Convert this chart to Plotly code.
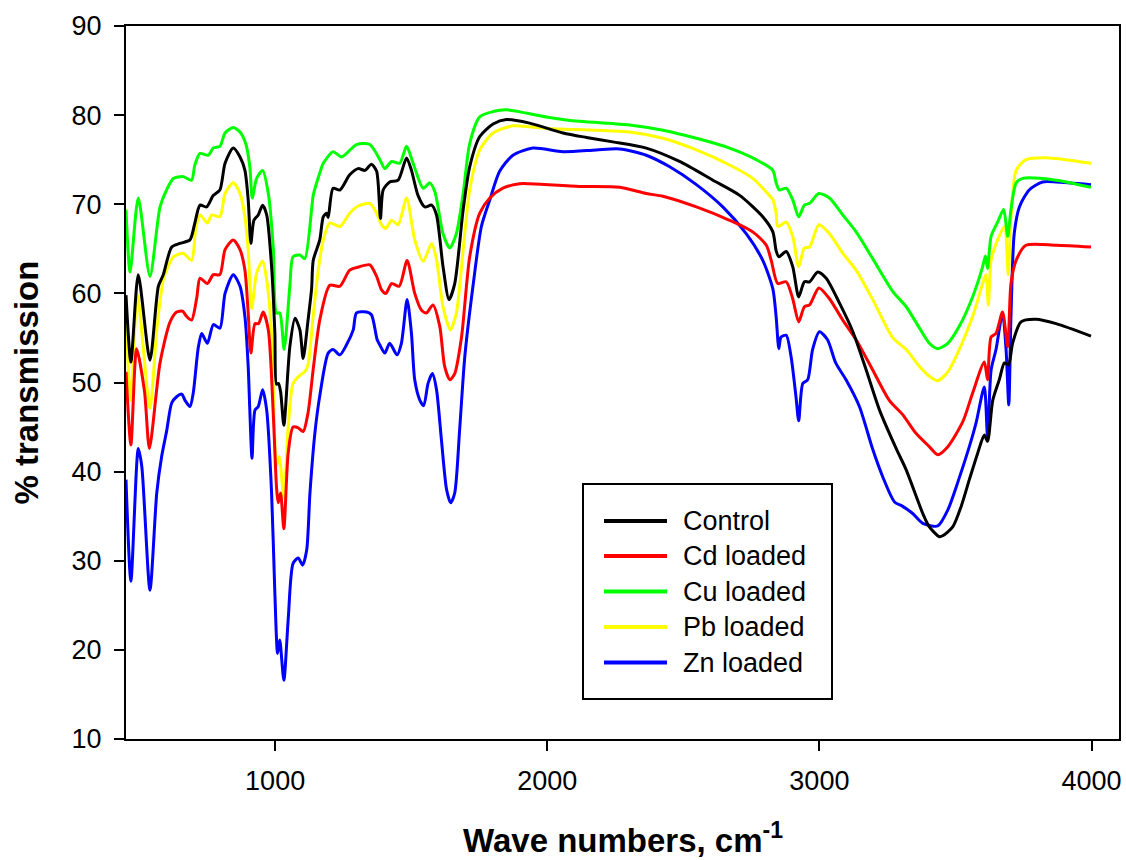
import plotly.graph_objects as go

# FTIR spectra: wavenumber (cm-1) and % transmission for each sample
control_wn = [452, 470, 497, 540, 571, 589, 620, 650, 687, 705, 724, 748, 773, 797, 816, 846, 871, 889, 901,
              911, 922, 938, 954, 969, 987, 999, 1005, 1012, 1020, 1032, 1054, 1073, 1091, 1103, 1121, 1134,
              1140, 1164, 1177, 1189, 1195, 1213, 1238, 1274, 1305, 1330, 1354, 1373, 1387, 1397, 1421, 1452,
              1483, 1501, 1525, 1550, 1575, 1593, 1617, 1639, 1660, 1691, 1715, 1752, 1801, 1850, 1935, 2058,
              2144, 2241, 2364, 2486, 2609, 2707, 2792, 2829, 2841, 2851, 2878, 2902, 2924, 2945, 2964, 2994,
              3025, 3074, 3123, 3172, 3221, 3282, 3319, 3380, 3404, 3441, 3453, 3490, 3521, 3551, 3582, 3606,
              3618, 3637, 3661, 3680, 3695, 3710, 3741, 3796, 3870, 3998]
control_t = [59.8, 52.3, 62.1, 52.5, 60.8, 62.1, 65.2, 65.6, 66.0, 67.9, 69.9, 69.7, 71.0, 71.6, 74.6, 76.3, 75.3,
             73.8, 70.5, 65.6, 68.2, 68.8, 69.9, 68.8, 63.0, 55.6, 49.8, 49.9, 49.0, 45.2, 54.0, 57.2, 55.9, 52.7,
             57.0, 60.5, 63.7, 66.0, 68.6, 69.0, 68.5, 71.8, 71.6, 73.3, 74.0, 73.8, 74.5, 73.7, 68.4, 71.6, 72.5,
             72.7, 75.2, 73.8, 71.0, 69.7, 69.9, 68.8, 63.0, 59.3, 61.1, 69.4, 74.2, 77.6, 79.0, 79.5, 79.1, 78.0,
             77.5, 77.0, 76.3, 74.8, 72.7, 71.0, 68.6, 66.9, 64.8, 64.1, 64.7, 63.0, 59.6, 61.3, 61.3, 62.4,
             61.7, 58.9, 55.7, 51.4, 46.9, 42.6, 40.2, 35.3, 33.8, 32.7, 32.8, 33.8, 36.1, 39.1, 42.1, 44.1,
             43.4, 48.0, 50.3, 52.2, 52.0, 54.4, 56.8, 57.1, 56.6, 55.2]

cd_wn = [452, 470, 491, 520, 538, 577, 614, 638, 660, 675, 693, 712, 724, 751, 773, 797, 816, 846, 871, 889,
         901, 911, 926, 939, 956, 975, 993, 1005, 1011, 1020, 1032, 1048, 1066, 1085, 1103, 1121, 1140, 1164,
         1201, 1238, 1274, 1311, 1348, 1373, 1391, 1407, 1428, 1456, 1485, 1513, 1538, 1556, 1580, 1605, 1623,
         1642, 1660, 1685, 1715, 1752, 1789, 1837, 1899, 1935, 2119, 2266, 2364, 2425, 2548, 2670, 2755, 2805,
         2823, 2847, 2878, 2902, 2924, 2945, 2964, 2998, 3037, 3086, 3135, 3196, 3257, 3306, 3355, 3404, 3435,
         3472, 3527, 3563, 3606, 3618, 3631, 3649, 3673, 3692, 3704, 3723, 3759, 3870, 3998]
cd_t = [51.2, 43.0, 53.8, 49.0, 42.6, 52.2, 56.8, 57.9, 58.0, 57.4, 57.0, 59.5, 61.7, 61.1, 62.1, 62.1, 64.9, 66.0,
        64.9, 62.6, 57.8, 53.3, 56.6, 56.6, 57.9, 55.9, 46.6, 38.3, 36.5, 37.6, 33.6, 42.1, 45.0, 44.9, 44.5, 46.6,
        51.5, 57.0, 60.9, 60.8, 62.6, 63.0, 63.2, 61.9, 60.4, 60.0, 61.1, 60.8, 63.7, 60.0, 58.1, 57.8, 58.7, 56.3,
        51.8, 50.3, 51.0, 55.1, 64.1, 69.0, 70.7, 71.8, 72.3, 72.3, 72.0, 71.9, 71.2, 70.9, 69.7, 68.2, 66.9, 65.4,
        63.7, 61.1, 61.3, 59.4, 56.8, 58.5, 58.7, 60.6, 59.4, 57.0, 54.8, 51.4, 48.0, 46.4, 44.3, 42.8, 41.9,
        42.8, 45.6, 48.8, 52.3, 50.3, 55.1, 55.5, 57.9, 54.0, 61.1, 63.7, 65.4, 65.4, 65.2]

cu_wn = [452, 467, 497, 540, 577, 601, 626, 662, 693, 705, 724, 754, 773, 797, 816, 846, 871, 893, 907, 916,
         932, 954, 975, 993, 1005, 1017, 1033, 1054, 1066, 1091, 1109, 1134, 1140, 1164, 1177, 1213, 1244, 1299,
         1348, 1385, 1403, 1428, 1458, 1483, 1507, 1544, 1568, 1587, 1617, 1642, 1666, 1691, 1715, 1752, 1801,
         1850, 1997, 2119, 2303, 2425, 2548, 2670, 2768, 2829, 2841, 2853, 2878, 2902, 2924, 2945, 2964, 2998,
         3037, 3086, 3135, 3196, 3270, 3319, 3368, 3404, 3435, 3472, 3514, 3563, 3600, 3610, 3618, 3631, 3655,
         3677, 3692, 3704, 3723, 3747, 3870, 3998]
cu_t = [69.4, 62.4, 70.7, 61.9, 69.7, 71.6, 72.9, 73.1, 72.7, 74.4, 75.7, 75.5, 76.3, 76.5, 78.0, 78.6, 78.1, 76.7,
        74.2, 70.7, 72.9, 73.8, 71.2, 65.2, 57.8, 57.8, 53.7, 60.8, 64.1, 64.3, 63.9, 69.4, 71.0, 73.5, 74.6, 75.9,
        75.3, 76.7, 76.7, 75.0, 74.0, 74.8, 74.6, 76.5, 74.6, 71.8, 72.4, 71.4, 66.7, 65.1, 66.7, 71.2, 76.8, 79.8,
        80.4, 80.6, 79.8, 79.3, 78.9, 78.3, 77.4, 76.3, 75.0, 73.8, 72.4, 71.6, 71.8, 70.5, 68.6, 69.9, 70.1, 71.2,
        70.7, 68.8, 66.9, 63.9, 60.2, 58.5, 56.1, 54.4, 53.8, 54.4, 56.3, 59.6, 63.0, 64.2, 62.8, 66.4, 68.0,
        69.4, 66.4, 69.4, 72.4, 72.9, 72.7, 71.9]

pb_wn = [452, 469, 494, 540, 565, 589, 601, 626, 662, 693, 709, 724, 751, 767, 797, 816, 846, 871, 889, 901,
         914, 932, 954, 969, 987, 1005, 1015, 1032, 1048, 1066, 1091, 1109, 1121, 1140, 1158, 1177, 1201, 1238,
         1274, 1305, 1348, 1373, 1391, 1407, 1428, 1452, 1483, 1513, 1544, 1575, 1593, 1617, 1644, 1666, 1691,
         1715, 1752, 1801, 1874, 1997, 2180, 2303, 2425, 2548, 2670, 2755, 2810, 2829, 2841, 2847, 2878, 2902,
         2924, 2945, 2964, 2998, 3037, 3086, 3135, 3196, 3270, 3319, 3368, 3404, 3435, 3472, 3514, 3563, 3606,
         3612, 3621, 3631, 3655, 3680, 3694, 3704, 3723, 3759, 3845, 3998]
pb_t = [57.2, 48.0, 59.8, 47.1, 55.9, 61.5, 62.6, 64.1, 64.5, 63.7, 67.5, 68.8, 67.9, 68.8, 68.6, 71.2, 72.4, 71.2,
        68.6, 64.9, 58.3, 62.3, 63.6, 61.5, 55.5, 40.6, 41.7, 37.1, 45.0, 49.9, 50.8, 51.2, 52.0, 57.5, 62.5, 66.0,
        67.9, 67.5, 69.0, 69.8, 70.1, 69.0, 67.7, 67.3, 68.2, 67.7, 70.7, 66.0, 63.6, 65.6, 63.8, 58.5, 55.9, 57.8,
        64.9, 71.6, 76.1, 78.0, 78.8, 78.5, 78.3, 78.1, 77.4, 76.1, 74.4, 72.9, 71.2, 70.5, 69.0, 67.5, 68.0, 66.4,
        63.0, 65.1, 65.2, 67.7, 66.7, 64.5, 62.6, 59.3, 55.0, 53.7, 51.8, 50.7, 50.2, 51.2, 53.7, 57.4, 61.7,
        62.1, 58.7, 63.7, 66.0, 67.5, 62.1, 68.6, 73.8, 75.0, 75.2, 74.6]

zn_wn = [452, 470, 497, 510, 540, 565, 583, 601, 620, 638, 657, 669, 687, 699, 712, 718, 730, 751, 773, 797,
         816, 846, 871, 889, 901, 907, 915, 926, 938, 954, 969, 987, 999, 1009, 1017, 1032, 1048, 1066, 1085,
         1101, 1116, 1128, 1146, 1164, 1195, 1213, 1238, 1262, 1287, 1299, 1336, 1354, 1375, 1385, 1403, 1421,
         1448, 1464, 1485, 1501, 1513, 1532, 1546, 1562, 1578, 1593, 1611, 1630, 1645, 1660, 1678, 1697, 1727,
         1758, 1789, 1825, 1874, 1947, 2058, 2180, 2266, 2364, 2450, 2548, 2645, 2731, 2792, 2829, 2841, 2851,
         2859, 2878, 2896, 2914, 2924, 2939, 2957, 2975, 3000, 3030, 3060, 3098, 3147, 3196, 3233, 3276, 3306,
         3343, 3380, 3435, 3472, 3514, 3551, 3576, 3606, 3618, 3631, 3649, 3673, 3686, 3696, 3704, 3716, 3735,
         3771, 3820, 3870, 3998]
zn_t = [39.1, 27.7, 42.6, 40.6, 26.7, 37.6, 41.7, 44.5, 47.7, 48.4, 48.7, 48.0, 47.3, 48.8, 52.5, 54.0, 55.5, 54.4,
        56.5, 56.1, 60.0, 62.1, 60.8, 57.4, 51.8, 46.9, 41.5, 46.9, 47.3, 49.2, 46.9, 37.6, 26.4, 19.6, 21.1, 16.6,
        23.4, 29.7, 30.3, 29.5, 31.2, 37.6, 44.3, 48.5, 53.3, 53.7, 53.1, 54.2, 55.9, 57.8, 57.9, 57.6, 54.8, 54.2,
        53.3, 54.4, 53.1, 54.4, 59.3, 55.5, 50.3, 48.0, 47.4, 49.9, 51.0, 49.2, 43.6, 38.0, 36.5, 37.6, 44.7, 52.9,
        60.8, 67.5, 70.5, 73.7, 75.5, 76.3, 75.9, 76.1, 76.2, 75.5, 74.2, 72.2, 69.7, 66.7, 63.7, 60.5, 57.4, 53.8,
        55.1, 55.3, 52.9, 48.4, 45.7, 49.9, 50.3, 53.7, 55.7, 54.8, 52.2, 50.3, 47.3, 42.5, 39.4, 36.6, 36.1,
        35.3, 34.2, 33.9, 35.7, 39.3, 42.8, 45.5, 49.5, 43.9, 51.4, 53.7, 57.8, 53.7, 47.5, 57.4, 66.7, 69.7,
        71.6, 72.5, 72.5, 72.2]

series_names = ["Control", "Cd loaded", "Cu loaded", "Pb loaded", "Zn loaded"]
series_colors = ["#000000", "#ff0000", "#00ff00", "#ffff00", "#0000ff"]
series_data = [(control_wn, control_t), (cd_wn, cd_t), (cu_wn, cu_t), (pb_wn, pb_t), (zn_wn, zn_t)]

x_range = [452, 4101]
y_range = [10, 90]
x_ticks = [1000, 2000, 3000, 4000]
y_ticks = [10, 20, 30, 40, 50, 60, 70, 80, 90]

FONT = "Liberation Sans, Arial, sans-serif"
W, H = 1126, 860
ML, MR, MT, MB = 126, 7, 26, 121
PW, PH = W - ML - MR, H - MT - MB


def px_x(px):
    return (px - ML) / PW


def px_y(py):
    return (H - MB - py) / PH


fig = go.Figure()
# draw Control last so it sits on top of the other spectra
order = [4, 3, 2, 1, 0]
for i in order:
    wn, t = series_data[i]
    fig.add_trace(go.Scatter(
        x=wn, y=t, mode="lines", name=series_names[i],
        line=dict(color=series_colors[i], width=3, shape="spline", smoothing=0.7),
        showlegend=False, hoverinfo="skip",
    ))

# boxed legend
shapes = [dict(type="rect", xref="paper", yref="paper",
               x0=px_x(583), x1=px_x(832), y0=px_y(699), y1=px_y(484),
               line=dict(color="black", width=2), fillcolor="white", layer="above")]
annotations = []
row_y = [521, 556, 591.5, 627, 662.5]
for name, color, ry in zip(series_names, series_colors, row_y):
    shapes.append(dict(type="line", xref="paper", yref="paper",
                       x0=px_x(604), x1=px_x(667), y0=px_y(ry), y1=px_y(ry),
                       line=dict(color=color, width=4), layer="above"))
    annotations.append(dict(xref="paper", yref="paper", x=px_x(681), y=px_y(ry),
                            xanchor="left", yanchor="middle", showarrow=False,
                            text=name, font=dict(family=FONT, size=27, color="black")))

# axis titles
annotations.append(dict(xref="paper", yref="paper", x=px_x(26), y=0.5, textangle=-90,
                        xanchor="center", yanchor="middle", showarrow=False,
                        text="<b>% transmission</b>", font=dict(family=FONT, size=33, color="black")))
annotations.append(dict(xref="paper", yref="paper", x=0.5, y=px_y(838),
                        xanchor="center", yanchor="middle", showarrow=False,
                        text="<b>Wave numbers, cm<sup>-1</sup></b>", font=dict(family=FONT, size=33, color="black")))

axis_common = dict(showline=True, linecolor="black", linewidth=2, mirror=True,
                   ticks="outside", ticklen=10, tickwidth=2, tickcolor="black",
                   showgrid=False, zeroline=False, ticklabelstandoff=7,
                   tickfont=dict(family=FONT, size=27, color="black"))

fig.update_layout(
    width=W, height=H,
    margin=dict(l=ML, r=MR, t=MT, b=MB, autoexpand=False),
    paper_bgcolor="white", plot_bgcolor="white",
    xaxis=dict(range=x_range, tickvals=x_ticks, **axis_common),
    yaxis=dict(range=y_range, tickvals=y_ticks, **axis_common),
    shapes=shapes, annotations=annotations,
    showlegend=False,
)

fig.write_html("out.html")
